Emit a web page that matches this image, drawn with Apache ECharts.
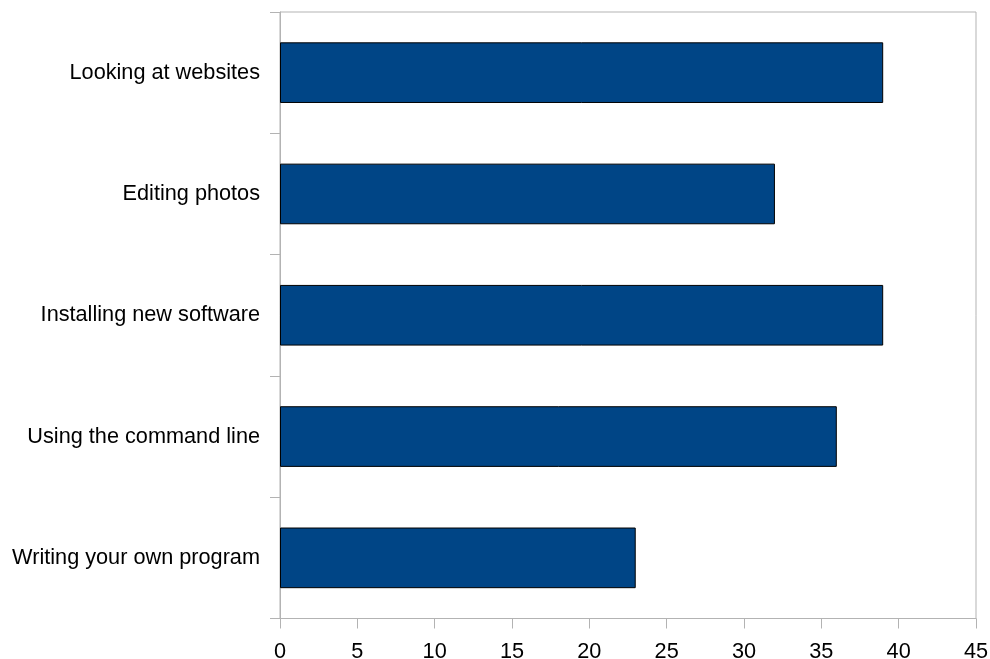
<!DOCTYPE html>
<html>
<head>
<meta charset="utf-8">
<script src="https://cdn.jsdelivr.net/npm/echarts@6/dist/echarts.min.js"></script>
<style>
html,body{margin:0;padding:0;background:#fff;}
#chart{width:990px;height:659px;}
</style>
</head>
<body>
<div id="chart"></div>
<script>
const categories = ["Looking at websites", "Editing photos", "Installing new software", "Using the command line", "Writing your own program"];
const values = [39, 32, 39, 36, 23];
const xTicks = { min: 0, max: 45, interval: 5 };

const gridColor = '#b3b3b3';
const chart = echarts.init(document.getElementById('chart'), null, { renderer: 'canvas' });
chart.setOption({
  animation: false,
  backgroundColor: '#ffffff',
  grid: {
    left: 280, top: 12, right: 14, bottom: 40.5,
    outerBoundsMode: 'none', containLabel: false,
    show: true, borderColor: gridColor, borderWidth: 1, backgroundColor: 'transparent'
  },
  xAxis: {
    type: 'value',
    min: xTicks.min, max: xTicks.max, interval: xTicks.interval,
    axisLine: { show: true, lineStyle: { color: gridColor, width: 1 } },
    axisTick: { show: true, length: 10, lineStyle: { color: gridColor, width: 1 } },
    splitLine: { show: false },
    axisLabel: { color: '#000', fontFamily: 'Liberation Sans, Arial, sans-serif', fontSize: 21.7, margin: 23 }
  },
  yAxis: {
    type: 'category',
    data: categories,
    inverse: true,
    axisLine: { show: true, lineStyle: { color: gridColor, width: 1 } },
    axisTick: { show: true, length: 10, alignWithLabel: false, lineStyle: { color: gridColor, width: 1 } },
    splitLine: { show: false },
    axisLabel: { color: '#000', fontFamily: 'Liberation Sans, Arial, sans-serif', fontSize: 21.7, margin: 20 }
  },
  series: [{
    type: 'bar',
    data: values,
    barWidth: '50%',
    itemStyle: { color: '#004586', borderColor: '#000000', borderWidth: 1 }
  }]
});
</script>
</body>
</html>
